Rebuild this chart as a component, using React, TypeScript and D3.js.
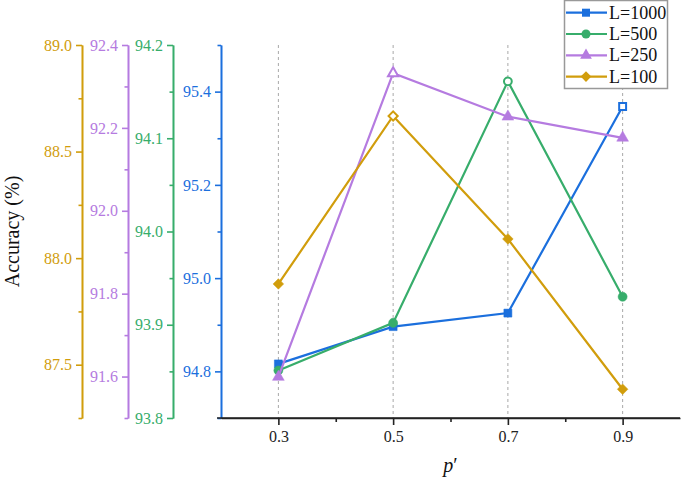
import { useEffect, useRef } from "react";
import * as d3 from "d3";

const pValues = [0.3, 0.5, 0.7, 0.9];
const acc1000 = [94.816, 94.896, 94.925, 95.368];
const acc500 = [93.851, 93.902, 94.161, 93.93];
const acc250 = [91.599, 92.332, 92.227, 92.176];
const acc100 = [87.879, 88.667, 88.09, 87.385];
const seriesLabels = ["L=1000", "L=500", "L=250", "L=100"];

const xTicks = [0.3, 0.5, 0.7, 0.9];
const xMinorTicks = [0.4, 0.6, 0.8];
const ticks1000 = [94.8, 95.0, 95.2, 95.4];
const minor1000 = [94.7, 94.9, 95.1, 95.3, 95.5];
const ticks500 = [93.8, 93.9, 94.0, 94.1, 94.2];
const minor500 = [93.85, 93.95, 94.05, 94.15];
const ticks250 = [91.6, 91.8, 92.0, 92.2, 92.4];
const minor250 = [91.5, 91.7, 91.9, 92.1, 92.3];
const ticks100 = [87.5, 88.0, 88.5, 89.0];
const minor100 = [87.25, 87.75, 88.25, 88.75];

const W = 685,
  H = 477;
const plot = { left: 221, right: 680, top: 45, bottom: 418 };
const font = "'Liberation Serif', 'Times New Roman', serif";

const colors = ["#1b6fdd", "#37ad6b", "#b57be0", "#d19d0c"];

export default function App() {
  const axesRef = useRef<SVGGElement>(null);

  const x = d3.scaleLinear().domain([0.2, 1.0]).range([plot.left, plot.right]);
  const yScales = [
    d3.scaleLinear().domain([94.7, 95.5]).range([plot.bottom, plot.top]),
    d3.scaleLinear().domain([93.8, 94.2]).range([plot.bottom, plot.top]),
    d3.scaleLinear().domain([91.5, 92.4]).range([plot.bottom, plot.top]),
    d3.scaleLinear().domain([87.25, 89.0]).range([plot.bottom, plot.top]),
  ];
  const axisX = [221, 173, 128, 82];
  const majors = [ticks1000, ticks500, ticks250, ticks100];
  const minors = [minor1000, minor500, minor250, minor100];
  const data = [acc1000, acc500, acc250, acc100];
  const symbols = [d3.symbolSquare, d3.symbolCircle, d3.symbolTriangle, d3.symbolSquare];
  const sizes = [64, 64, 60, 56];

  useEffect(() => {
    const g = d3.select(axesRef.current);
    g.selectAll("*").remove();

    // one y axis per series, stacked on the left
    yScales.forEach((y, i) => {
      const ax = g.append("g").attr("transform", "translate(" + axisX[i] + ",0)");
      ax.call(
        d3.axisLeft(y).tickValues(minors[i]).tickSize(3.5).tickSizeOuter(0).tickFormat(() => "")
      );
      ax.append("g").call(
        d3
          .axisLeft(y)
          .tickValues(majors[i])
          .tickSize(6)
          .tickSizeOuter(0)
          .tickPadding(4)
          .tickFormat(d3.format(".1f"))
      );
      ax.attr("font-family", null).attr("font-size", null);
      ax.selectAll("g").attr("font-family", null).attr("font-size", null);
      ax.selectAll("path, line").attr("stroke", colors[i]).attr("stroke-width", 1.6);
      ax.selectAll("text").attr("fill", colors[i]);
    });

    // x axis
    const xa = g.append("g").attr("transform", "translate(0," + plot.bottom + ")");
    xa.call(d3.axisBottom(x).tickValues(xMinorTicks).tickSize(4).tickSizeOuter(0).tickFormat(() => ""));
    xa.append("g").call(
      d3.axisBottom(x).tickValues(xTicks).tickSize(7).tickSizeOuter(0).tickPadding(6).tickFormat(d3.format(".1f"))
    );
    xa.attr("font-family", null).attr("font-size", null);
    xa.selectAll("g").attr("font-family", null).attr("font-size", null);
    xa.selectAll("path, line").attr("stroke", "#222").attr("stroke-width", 1.6);
    xa.select("path").attr("d", "M" + (plot.left - 4) + ",0H" + plot.right);
    xa.selectAll("text").attr("fill", "#222");
  }, []);

  const line = (y: d3.ScaleLinear<number, number>) =>
    d3
      .line<number>()
      .x((d, i) => x(pValues[i]))
      .y((d) => y(d));

  return (
    <svg width={W} height={H} style={{ position: "absolute", left: 0, top: 0, fontFamily: font, fontSize: 16 }}>
      <rect width={W} height={H} fill="#fff" />
      {/* dashed grid lines */}
      {xTicks.map((t) => (
        <line
          key={t}
          x1={x(t)}
          x2={x(t)}
          y1={plot.top}
          y2={plot.bottom}
          stroke="#a8a8a8"
          strokeWidth={1}
          strokeDasharray="3,3"
        />
      ))}
      <g ref={axesRef} />
      {data.map((vals, s) => {
        const y = yScales[s];
        const maxIdx = vals.indexOf(Math.max(...vals));
        return (
          <g key={s}>
            <path d={line(y)(vals) || ""} fill="none" stroke={colors[s]} strokeWidth={2.2} />
            {vals.map((v, i) => {
              const hollow = i === maxIdx;
              const sym = d3
                .symbol()
                .type(symbols[s])
                .size(hollow ? sizes[s] * 0.75 : sizes[s]);
              return (
                <path
                  key={i}
                  d={sym() || ""}
                  transform={
                    "translate(" + x(pValues[i]) + "," + y(v) + ")" + (s === 3 ? " rotate(45)" : "")
                  }
                  fill={hollow ? "#fff" : colors[s]}
                  stroke={colors[s]}
                  strokeWidth={hollow ? 2 : 0.5}
                />
              );
            })}
          </g>
        );
      })}
      {/* axis titles */}
      <text
        transform={"translate(19," + (plot.top + plot.bottom) / 2 + ") rotate(-90)"}
        textAnchor="middle"
        fontSize={20}
        fill="#111"
      >
        Accuracy (%)
      </text>
      <text x={(plot.left + plot.right) / 2} y={472} textAnchor="middle" fontSize={20} fill="#111">
        <tspan fontStyle="italic">p</tspan>
        <tspan>′</tspan>
      </text>
      {/* legend */}
      <g>
        <rect x={564.5} y={0.5} width={103} height={88} fill="#fff" stroke="#999" strokeWidth={1.5} />
        {seriesLabels.map((lab, s) => {
          const cy = 12.7 + s * 21.3;
          const sym = d3.symbol().type(symbols[s]).size(sizes[s]);
          return (
            <g key={lab}>
              <line x1={566} x2={607} y1={cy} y2={cy} stroke={colors[s]} strokeWidth={2.2} />
              <path
                d={sym() || ""}
                transform={"translate(586," + cy + ")" + (s === 3 ? " rotate(45)" : "")}
                fill={colors[s]}
              />
              <text x={609} y={cy + 6} fontSize={18} fill="#111">
                {lab}
              </text>
            </g>
          );
        })}
      </g>
    </svg>
  );
}
